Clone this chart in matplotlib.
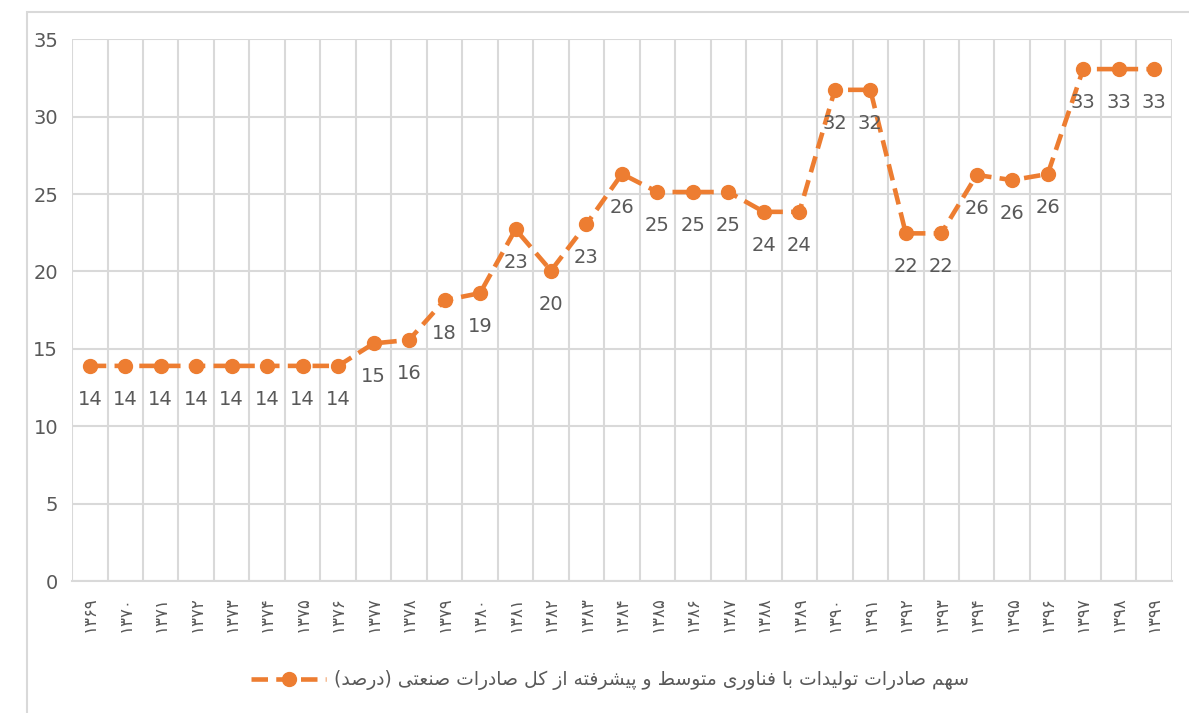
import matplotlib
matplotlib.use("Agg")
import matplotlib.pyplot as plt
from matplotlib.patches import Rectangle

plt.rcParams['font.family'] = ['DejaVu Sans']

# years 1369..1399 in Persian digits
years = ['۱۳۶۹', '۱۳۷۰', '۱۳۷۱', '۱۳۷۲', '۱۳۷۳', '۱۳۷۴', '۱۳۷۵', '۱۳۷۶',
         '۱۳۷۷', '۱۳۷۸', '۱۳۷۹', '۱۳۸۰', '۱۳۸۱', '۱۳۸۲', '۱۳۸۳', '۱۳۸۴',
         '۱۳۸۵', '۱۳۸۶', '۱۳۸۷', '۱۳۸۸', '۱۳۸۹', '۱۳۹۰', '۱۳۹۱', '۱۳۹۲',
         '۱۳۹۳', '۱۳۹۴', '۱۳۹۵', '۱۳۹۶', '۱۳۹۷', '۱۳۹۸', '۱۳۹۹']
share = [13.9, 13.9, 13.9, 13.9, 13.9, 13.9, 13.9, 13.9,
         15.35, 15.58, 18.14, 18.6, 22.72, 20.05, 23.06, 26.3,
         25.13, 25.13, 25.13, 23.85, 23.85, 31.73, 31.73, 22.46,
         22.46, 26.23, 25.9, 26.29, 33.07, 33.07, 33.07]
series_name = 'سهم صادرات تولیدات با فناوری متوسط و پیشرفته از کل صادرات صنعتی (درصد)'

# minimal arabic/persian shaping (matplotlib has no bidi/shaping)
# iso, fin, ini, med
FORMS = {
    'ا': ('\uFE8D', '\uFE8E', None, None),
    'ب': ('\uFE8F', '\uFE90', '\uFE91', '\uFE92'),
    'ت': ('\uFE95', '\uFE96', '\uFE97', '\uFE98'),
    'د': ('\uFEA9', '\uFEAA', None, None),
    'ر': ('\uFEAD', '\uFEAE', None, None),
    'ز': ('\uFEAF', '\uFEB0', None, None),
    'س': ('\uFEB1', '\uFEB2', '\uFEB3', '\uFEB4'),
    'ش': ('\uFEB5', '\uFEB6', '\uFEB7', '\uFEB8'),
    'ص': ('\uFEB9', '\uFEBA', '\uFEBB', '\uFEBC'),
    'ط': ('\uFEC1', '\uFEC2', '\uFEC3', '\uFEC4'),
    'ع': ('\uFEC9', '\uFECA', '\uFECB', '\uFECC'),
    'ف': ('\uFED1', '\uFED2', '\uFED3', '\uFED4'),
    'ل': ('\uFEDD', '\uFEDE', '\uFEDF', '\uFEE0'),
    'م': ('\uFEE1', '\uFEE2', '\uFEE3', '\uFEE4'),
    'ن': ('\uFEE5', '\uFEE6', '\uFEE7', '\uFEE8'),
    'ه': ('\uFEE9', '\uFEEA', '\uFEEB', '\uFEEC'),
    'و': ('\uFEED', '\uFEEE', None, None),
    'پ': ('\uFB56', '\uFB57', '\uFB58', '\uFB59'),
    'ک': ('\uFB8E', '\uFB8F', '\uFB90', '\uFB91'),
    'ی': ('\uFBFC', '\uFBFD', '\uFBFE', '\uFBFF'),
}


def rtl(text):
    out = []
    for i, ch in enumerate(text):
        if ch not in FORMS:
            out.append(ch)
            continue
        prev = text[i - 1] if i > 0 else ''
        nxt = text[i + 1] if i + 1 < len(text) else ''
        join_prev = prev in FORMS and FORMS[prev][2] is not None
        join_next = nxt in FORMS and FORMS[ch][2] is not None
        iso, fin, ini, med = FORMS[ch]
        if join_prev and join_next:
            out.append(med)
        elif join_prev:
            out.append(fin)
        elif join_next:
            out.append(ini)
        else:
            out.append(iso)
    swap = {'(': ')', ')': '('}
    return ''.join(swap.get(c, c) for c in reversed(out))


orange = '#ED7D31'
grey = '#595959'
gridc = '#D9D9D9'

fig = plt.figure(figsize=(11.89, 7.13), dpi=100)
ax = fig.add_axes([0.0606, 0.185, 0.925, 0.760])

# chart outer frame
fig.patches.append(Rectangle((27 / 1189, -0.05), 1.2, 1.05 - 12 / 713,
                             transform=fig.transFigure, fill=False,
                             edgecolor=gridc, linewidth=1.5))

x = list(range(len(years)))
ax.plot(x, share, color=orange, linewidth=3.3, dashes=(3.6, 1.8),
        marker='o', markersize=10, label=rtl(series_name), zorder=3)

for xi, v in zip(x, share):
    ax.annotate(f'{v:.0f}', (xi, v), xytext=(0, -24), textcoords='offset points',
                ha='center', va='center', fontsize=14, color=grey)

ax.set_xlim(-0.5, len(years) - 0.5)
ax.set_ylim(0, 35)
ax.set_yticks(range(0, 36, 5))
ax.set_xticks(x)
ax.set_xticklabels(years, rotation=90, fontsize=12, color=grey)
ax.set_xticks([i - 0.5 for i in range(len(years) + 1)], minor=True)
ax.tick_params(axis='y', length=0, labelsize=14, labelcolor=grey, pad=10)
ax.tick_params(axis='x', which='both', length=0, pad=11)

ax.grid(axis='y', color=gridc, linewidth=1.5)
ax.grid(axis='x', which='minor', color=gridc, linewidth=1.5)
ax.set_axisbelow(True)
for s in ['top', 'right', 'left']:
    ax.spines[s].set_visible(False)
ax.spines['bottom'].set_color(gridc)
ax.spines['bottom'].set_linewidth(1.5)

fig.legend(loc='center', bbox_to_anchor=(0.513, 0.046), frameon=False,
           fontsize=13.5, handlelength=4.0, handletextpad=0.4, labelcolor=grey)

fig.savefig('out.png', dpi=100)
